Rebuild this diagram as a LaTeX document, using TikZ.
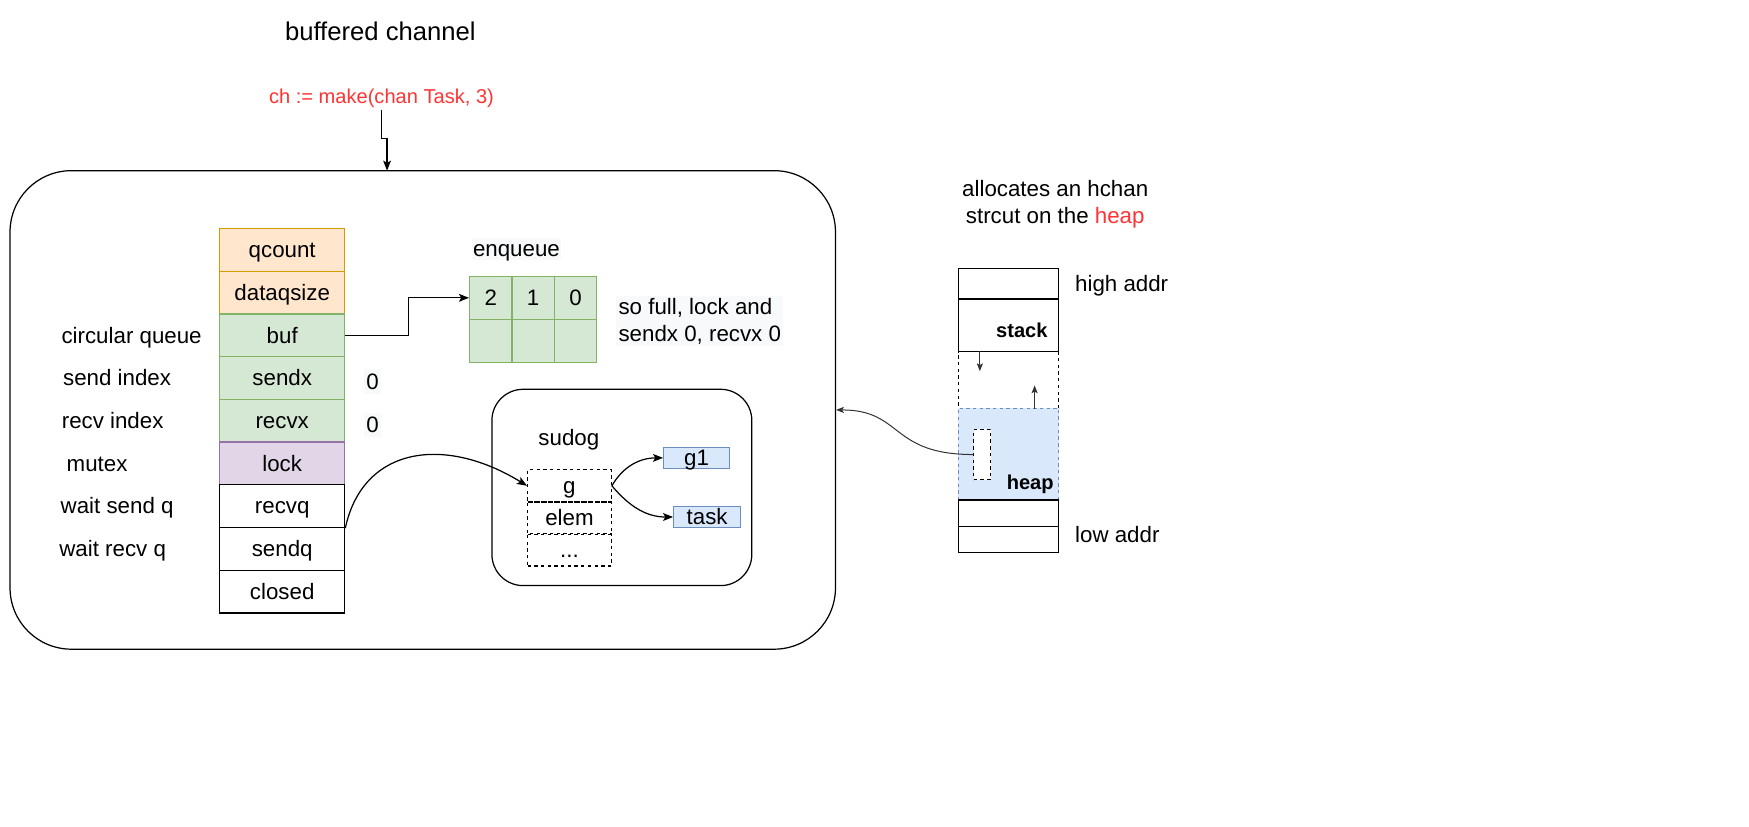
\documentclass[tikz,border=0pt]{standalone}
\usepackage{fontspec}
\setmainfont{Liberation Sans}
\usetikzlibrary{arrows.meta}
\definecolor{orfill}{HTML}{FFE6CC}
\definecolor{ordraw}{HTML}{D79B00}
\definecolor{grfill}{HTML}{D5E8D4}
\definecolor{grdraw}{HTML}{82B366}
\definecolor{pufill}{HTML}{E1D5E7}
\definecolor{pudraw}{HTML}{9673A6}
\definecolor{blfill}{HTML}{DAE8FC}
\definecolor{bldraw}{HTML}{6C8EBF}
\definecolor{redtxt}{HTML}{FF3333}
\definecolor{lbg}{HTML}{F8F9FA}
\definecolor{dk}{HTML}{333333}
\newcommand{\fsz}[2]{\fontsize{#1}{#2}\selectfont}

\begin{document}
\begin{tikzpicture}[x=1pt,y=-1pt,line width=1.1pt,
    every node/.style={font=\fsz{20}{24},text height=16pt,text depth=2pt},
    multi/.style={text height=,text depth=},
    cell/.style={draw,minimum width=112pt,minimum height=38.3pt,inner sep=0pt},
    gcell/.style={draw=grdraw,fill=grfill,minimum width=38pt,minimum height=38.5pt,inner sep=0pt},
    dcell/.style={draw,dashed,minimum width=75pt,minimum height=29pt,inner sep=0pt},
    bcell/.style={draw=bldraw,fill=blfill,minimum height=19pt,inner sep=0pt},
    mcell/.style={draw,minimum width=90pt,inner sep=0pt},
    arr/.style={-{Stealth[length=9pt,width=7pt,inset=2pt]}},
    sarr/.style={dk,line width=0.9pt,-{Stealth[length=7pt,width=5.5pt,inset=1.5pt]}}]
        \useasboundingbox (0,0) rectangle (1568,741);

        \node[font=\fsz{23}{28},text height=18pt,text depth=3pt] (ttl) at (341,29) {buffered channel};
        \node[font=\fsz{18}{22},text height=15pt,text depth=2pt,text=redtxt] (mk) at (342,86) {ch := make(chan Task, 3)};

        % the hchan struct
        \node[draw,rounded corners=55pt,minimum width=740pt,minimum height=429pt] (chan) at (379,367.5) {};
        \coordinate (top) at (347,153);
        \draw[arr] (mk.south) -- ++(0,26) -| (top);

        \node[cell,fill=orfill,draw=ordraw] (qc) at (253,224) {qcount};
        \node[cell,fill=orfill,draw=ordraw] (dqs) at (253,262.3) {dataqsize};
        \node[cell,fill=grfill,draw=grdraw] (buf) at (253,300.6) {buf};
        \node[cell,fill=grfill,draw=grdraw] (sx) at (253,338.9) {sendx};
        \node[cell,fill=grfill,draw=grdraw] (rx) at (253,377.2) {recvx};
        \node[cell,fill=pufill,draw=pudraw] (lk) at (253,415.5) {lock};
        \node[cell] (rq) at (253,453.8) {recvq};
        \node[cell] (sq) at (253,492.1) {sendq};
        \node[cell] (cl) at (253,530.4) {closed};

        \node (lbuf) at (118,300.6) {circular queue};
        \node (lsx) at (105,338.9) {send index};
        \node (lrx) at (101,377.2) {recv index};
        \node (llk) at (87,415.5) {mutex};
        \node (lrq) at (105,453.8) {wait send q};
        \node (lsq) at (101,492.1) {wait recv q};

        \node[fill=lbg,inner sep=2pt] (sx0) at (334,342) {0};
        \node[fill=lbg,inner sep=2pt] (rx0) at (334,381) {0};

        % ring buffer
        \node[fill=lbg,inner sep=1pt] (enq) at (463,223) {enqueue};
        \node[gcell] (q2) at (440,267) {2};
        \node[gcell] (q1) at (478,267) {1};
        \node[gcell] (q0) at (516,267) {0};
        \node[gcell] (b2) at (440,305.5) {};
        \node[gcell] (b1) at (478,305.5) {};
        \node[gcell] (b0) at (516,305.5) {};
        \node[multi,fill=lbg,align=left,anchor=west,inner sep=2pt] (full) at (552,288)
        {so full, lock and\\sendx 0, recvx 0};
        \draw[arr] (buf.east) -- ++(57,0) |- (q2.west);

        % sudog
        \node[draw,rounded corners=28pt,minimum width=233pt,minimum height=176pt] (sbox) at (557.5,437) {};
        \node (sdg) at (510,392) {sudog};
        \node[dcell] (g) at (510.5,435.5) {g};
        \node[dcell] (el) at (510.5,464.5) {elem};
        \node[dcell] (dots) at (510.5,493) {...};
        \node[bcell,minimum width=59pt] (g1) at (624.5,410.5) {g1};
        \node[bcell,minimum width=60pt] (tsk) at (634,463.5) {task};
        \draw[arr] (g.east) to[out=60,in=180] (g1.west);
        \draw[arr] (g.east) to[out=-50,in=180] (tsk.west);
        \draw[arr] (rq.south east) .. controls +(16,-74) and +(-73,-45) .. (g.west);

        % memory layout
        \node[multi,align=center] (al) at (946,183) {allocates an hchan\\strcut on the \textcolor{redtxt}{heap}};
        \node[mcell,dashed,minimum height=50.7pt] (gap) at (904,340.65) {};
        \node[mcell,minimum height=27.5pt] (m1) at (904,254.25) {};
        \node[mcell,minimum height=47.3pt] (stk) at (904,291.65) {};
        \node[mcell,dashed,draw=bldraw,fill=blfill,minimum height=82.3pt] (hp) at (904,407.15) {};
        \node[mcell,minimum height=23.7pt] (m5) at (904,460.15) {};
        \node[mcell,minimum height=23.6pt] (m6) at (904,483.8) {};
        \node[anchor=east,font=\bfseries\fsz{18}{22},text height=15pt,text depth=2pt] (stkl) at (943,296) {stack};
        \node[anchor=east,font=\bfseries\fsz{18}{22},text height=15pt,text depth=2pt] (hpl) at (948.5,432) {heap};
        \node[anchor=west] (hi) at (960,254) {high addr};
        \node[anchor=west] (lo) at (960,479) {low addr};
        \draw[sarr] ([xshift=20pt]gap.north west) -- ++(0,18);
        \draw[sarr] ([xshift=-22pt]gap.south east) -- ++(0,-21);
        \node[draw,dashed,fill=white,line width=0.9pt,minimum width=15pt,minimum height=45pt,inner sep=0pt] (obj) at (880.5,407.5) {};
        \draw[sarr] (obj.west) .. controls +(-75,0) and +(60,0) .. (chan.east);
\end{tikzpicture}
\end{document}
